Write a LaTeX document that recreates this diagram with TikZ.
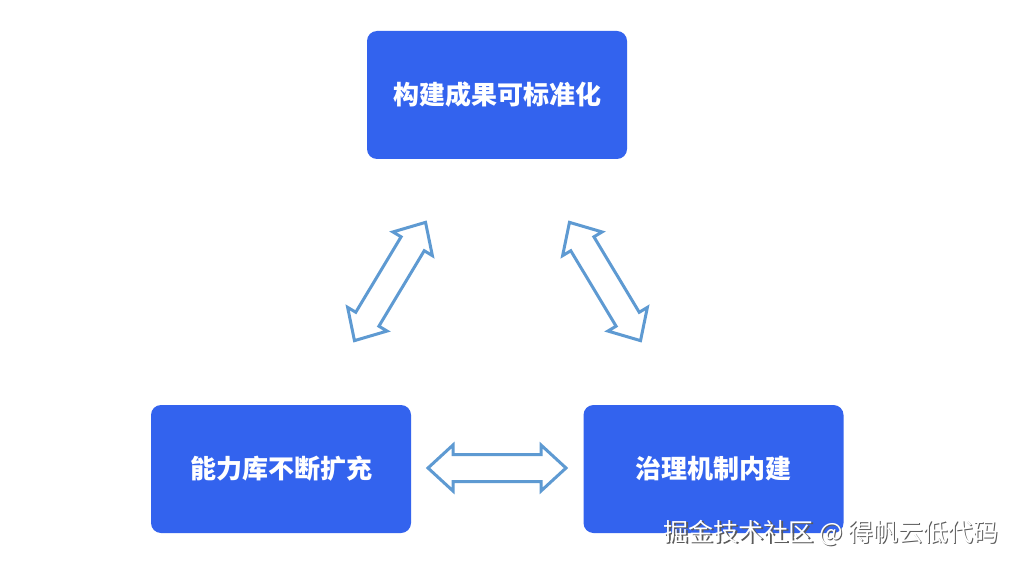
\documentclass[tikz,border=0pt]{standalone}
\usepackage{fontspec}
\newfontfamily\cjk{Noto Sans CJK SC}
\definecolor{boxblue}{RGB}{51,99,238}
\definecolor{arrowblue}{RGB}{94,154,210}
\definecolor{wmshadow}{RGB}{90,90,90}
\begin{document}
\begin{tikzpicture}[x=1pt,y=-1pt,
  box/.style={fill=boxblue, rounded corners=10pt, inner sep=0pt, minimum width=260pt, minimum height=128pt, text=white, font=\cjk\bfseries\fontsize{26}{30}\selectfont},
  dblarrow/.style={draw=arrowblue, fill=white, line width=3pt, line join=miter},
  wmark/.style={font=\cjk\fontsize{25}{30}\selectfont}
]
\useasboundingbox (0,0) rectangle (1017,564);
\fill[white] (0,0) rectangle (1017,564);
\node[box] (top) at (497,95) {构建成果可标准化};
\node[box] (left) at (281,469) {能力库不断扩充};
\node[box] (right) at (713.5,469) {治理机制内建};
% double arrows
\def\dbl{(-69,0) -- (-44,23) -- (-44,13.5) -- (44,13.5) -- (44,23) -- (69,0) -- (44,-23) -- (44,-13.5) -- (-44,-13.5) -- (-44,-23) -- cycle}
\begin{scope}[shift={(390,281.5)}, rotate=59]
  \draw[dblarrow] \dbl;
  \coordinate (a1) at (0,0);
\end{scope}
\begin{scope}[shift={(605,281.5)}, rotate=-59]
  \draw[dblarrow] \dbl;
  \coordinate (a2) at (0,0);
\end{scope}
\begin{scope}[shift={(497,468)}]
  \draw[dblarrow] \dbl;
  \coordinate (a3) at (0,0);
\end{scope}
% watermark
\node[wmark, text=wmshadow] at (832.5,534.5) {掘金技术社区 @ 得帆云低代码};
\node[wmark, text=white] (wm) at (831,533) {掘金技术社区 @ 得帆云低代码};
\end{tikzpicture}
\end{document}
